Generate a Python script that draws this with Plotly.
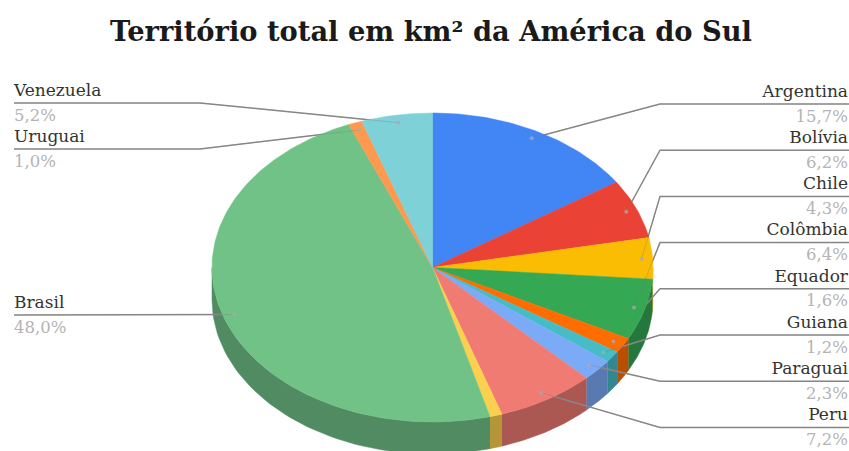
import numpy as np
import plotly.graph_objects as go

TITLE = "Território total em km² da América do Sul"
countries = ["Argentina", "Bolívia", "Chile", "Colômbia", "Equador", "Guiana",
             "Paraguai", "Peru", "Suriname", "Brasil", "Uruguai", "Venezuela"]
shares = [15.7, 6.2, 4.3, 6.4, 1.6, 1.2, 2.3, 7.2, 0.9, 48.0, 1.0, 5.2]
colors = ["#4285F4", "#EA4335", "#FBBC04", "#34A853", "#FF6D01", "#46BDC6",
          "#7BAAF7", "#F07B72", "#FCD04F", "#71C287", "#FF994D", "#7ED1D7"]
labelled = ["Argentina", "Bolívia", "Chile", "Colômbia", "Equador", "Guiana",
            "Paraguai", "Peru", "Brasil", "Uruguai", "Venezuela"]

W, H = 849, 451
CX, CY, RX, RY, DEPTH = 432.5, 267.5, 220.5, 154.5, 32
SHADE = 0.72
SERIF = "DejaVu Serif"


def darker(hex_color, k=SHADE):
    r, g, b = (int(hex_color[i:i + 2], 16) for i in (1, 3, 5))
    return f"rgb({int(r * k)},{int(g * k)},{int(b * k)})"


def ex(a, f=1.0):
    return CX + RX * f * np.sin(a)


def ey(a, f=1.0, dy=0.0):
    return CY - RY * f * np.cos(a) + dy


total = sum(shares)
edges = np.radians(np.cumsum([0] + shares) / total * 360)
fig = go.Figure()

# Outer wall of the lower half of the pie
for name, col, a0, a1 in zip(countries, colors, edges[:-1], edges[1:]):
    lo, hi = max(a0, np.pi / 2), min(a1, 3 * np.pi / 2)
    if hi <= lo:
        continue
    t = np.linspace(lo, hi, 60)
    xs = np.r_[ex(t), ex(t[::-1])]
    ys = np.r_[ey(t), ey(t[::-1], dy=DEPTH)]
    c = darker(col)
    fig.add_trace(go.Scatter(x=xs, y=ys, mode="lines", fill="toself", fillcolor=c,
                             line=dict(color=c, width=0.5), hoverinfo="skip"))

# Leader geometry
anchors = {}
for name, a0, a1, v in zip(countries, edges[:-1], edges[1:], shares):
    m = (a0 + a1) / 2
    anchors[name] = (ex(m, 0.95), ey(m, 0.95), v)
right = [n for n in labelled if anchors[n][0] > CX]
left = [n for n in labelled if anchors[n][0] <= CX]
rows = {n: 104 + 46.2 * i for i, n in enumerate(right)}
rows.update({"Venezuela": 103, "Uruguai": 149, "Brasil": 315})

LINE = "#8c8c8c"
under = [[], []]
for n in labelled:
    ax, ay, _ = anchors[n]
    y = rows[n]
    if n in right:
        px = [849, 660, ax]
    else:
        px = [14, 200, ax]
    under[0] += px + [None]
    under[1] += [y, y, ay, None]

# lines that run behind the pie
fig.add_trace(go.Scatter(x=under[0], y=under[1], mode="lines",
                         line=dict(color=LINE, width=1.5), hoverinfo="skip"))

# Top face
for name, col, a0, a1, v in zip(countries, colors, edges[:-1], edges[1:], shares):
    t = np.linspace(a0, a1, max(8, int((a1 - a0) * 60)))
    xs = np.r_[CX, ex(t), CX]
    ys = np.r_[CY, ey(t), CY]
    fig.add_trace(go.Scatter(x=xs, y=ys, mode="lines", fill="toself", fillcolor=col,
                             line=dict(color=col, width=0.5), name=name,
                             text=f"{name}: {v:.1f}%".replace(".", ","), hoverinfo="text"))

# faint part of the leaders over the pie, and their end dots
fig.add_trace(go.Scatter(x=under[0], y=under[1], mode="lines",
                         line=dict(color="rgba(120,120,120,0.3)", width=1), hoverinfo="skip"))
fig.add_trace(go.Scatter(x=[anchors[n][0] for n in labelled], y=[anchors[n][1] for n in labelled],
                         mode="markers", marker=dict(color="rgba(170,170,170,0.75)", size=4),
                         hoverinfo="skip"))


# Labels
def add_labels(names, x, pos):
    fig.add_trace(go.Scatter(x=[x] * len(names), y=[rows[n] - 11.5 for n in names], mode="text",
                             text=names, textposition=pos, cliponaxis=False,
                             textfont=dict(family=SERIF, size=17, color="#333333"), hoverinfo="skip"))
    fig.add_trace(go.Scatter(x=[x] * len(names), y=[rows[n] + 13.5 for n in names], mode="text",
                             text=[f"{anchors[n][2]:.1f}%".replace(".", ",") for n in names],
                             textposition=pos, cliponaxis=False,
                             textfont=dict(family=SERIF, size=16.5, color="#b4b4b4"), hoverinfo="skip"))


add_labels(right, 848, "middle left")
add_labels(left, 14, "middle right")

fig.update_layout(
    width=W, height=H, margin=dict(l=0, r=0, t=0, b=0), showlegend=False,
    paper_bgcolor="white", plot_bgcolor="white",
    title=dict(text=f"<b>{TITLE}</b>", x=431 / W, xanchor="center", y=1 - 31 / H, yanchor="middle",
               font=dict(family="DejaVu Serif", size=27.3, color="#1a1a1a")),
    xaxis=dict(range=[0, W], visible=False, fixedrange=True),
    yaxis=dict(range=[H, 0], visible=False, fixedrange=True),
)
fig.write_html("out.html", config=dict(displayModeBar=False),
               post_script="document.body.style.margin='0';document.documentElement.style.overflow='hidden';")
